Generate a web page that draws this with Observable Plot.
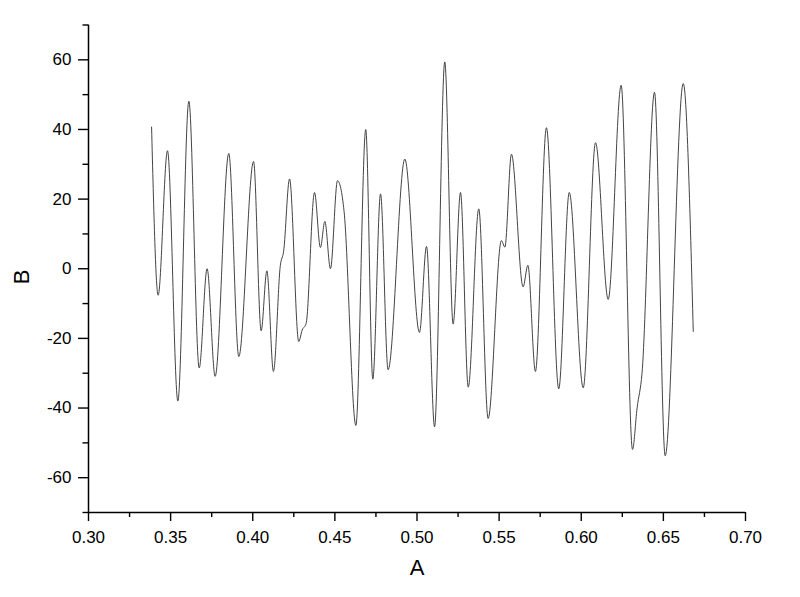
<!DOCTYPE html>
<html>
<head>
<meta charset="utf-8">
<script src="https://cdn.jsdelivr.net/npm/d3@7"></script>
<script src="https://cdn.jsdelivr.net/npm/@observablehq/plot@0.6"></script>
<style>
  html, body { margin: 0; padding: 0; background: #fff; }
  #chart { width: 800px; height: 597px; }
</style>
</head>
<body>
<div id="chart"></div>
<script>
// Data
const A = [0.3384, 0.3424, 0.3481, 0.3544, 0.3611, 0.3674, 0.3722, 0.3771, 0.3854, 0.3915,
           0.4005, 0.4051, 0.4086, 0.4126, 0.4168, 0.4188, 0.4224, 0.4280, 0.4301, 0.4325,
           0.4376, 0.4412, 0.4439, 0.4473, 0.4516, 0.4556, 0.4628, 0.4688, 0.4731, 0.4778,
           0.4824, 0.4926, 0.5015, 0.5058, 0.5107, 0.5169, 0.5220, 0.5265, 0.5312, 0.5376,
           0.5433, 0.5514, 0.5535, 0.5575, 0.5646, 0.5675, 0.5721, 0.5788, 0.5863, 0.5927,
           0.6012, 0.6087, 0.6164, 0.6243, 0.6312, 0.6340, 0.6370, 0.6446, 0.6511, 0.6621,
           0.6682];
const B = [40.7, -7.6, 33.9, -38, 48.1, -28.5, 0, -30.9, 33.1, -25.2,
           30.8, -17.8, -0.6, -29.5, 1, 5, 25.8, -20.9, -17.6, -15.7,
           21.9, 6.1, 13.6, 0, 25.3, 16.5, -45, 40, -31.7, 21.5,
           -29, 31.5, -18.3, 6.4, -45.4, 59.4, -15.9, 21.9, -34, 17.2,
           -43, 8.1, 6.2, 32.9, -5.2, 1, -29.5, 40.5, -34.5, 21.9,
           -34.2, 36.2, -8.8, 52.7, -51.9, -40, -30, 50.7, -53.7, 53.2,
           -18];

const xMajor = [0.30, 0.35, 0.40, 0.45, 0.50, 0.55, 0.60, 0.65, 0.70];
const xMinor = [0.325, 0.375, 0.425, 0.475, 0.525, 0.575, 0.625, 0.675];
const yMajor = [-60, -40, -20, 0, 20, 40, 60];
const yMinor = [-70, -50, -30, -10, 10, 30, 50, 70];
const xDomain = [0.30, 0.70];
const yDomain = [-70, 70];
const xTitle = "A";
const yTitle = "B";

const points = A.map((a, i) => ({a, b: B[i]}));
const fmt = d3.format(".2f");
const font = "'Liberation Sans', Arial, Helvetica, sans-serif";

const chart = Plot.plot({
  width: 800,
  height: 597,
  marginLeft: 88,
  marginRight: 55,
  marginTop: 24.5,
  marginBottom: 85,
  style: {fontFamily: font, background: "#fff", color: "#000"},
  x: {domain: xDomain, label: null},
  y: {domain: yDomain, label: null},
  marks: [
    Plot.ruleX([xDomain[0]], {y1: yDomain[0], y2: yDomain[1], stroke: "#000", strokeWidth: 1.5}),
    Plot.ruleY([yDomain[0]], {x1: xDomain[0], x2: xDomain[1], stroke: "#000", strokeWidth: 1.5}),
    Plot.axisX(xMajor, {tickSize: 9, tickPadding: 9, tickFormat: fmt, fontSize: 17, strokeWidth: 1.4, label: null}),
    Plot.axisX(xMinor, {tickSize: 5, tickFormat: () => "", strokeWidth: 1.4, label: null}),
    Plot.axisY(yMajor, {tickSize: 10, tickPadding: 7, tickFormat: d => String(d), fontSize: 17, strokeWidth: 1.4, label: null}),
    Plot.axisY(yMinor, {tickSize: 5.5, tickFormat: () => "", strokeWidth: 1.4, label: null}),
    Plot.line(points, {x: "a", y: "b", curve: "monotone-x", stroke: "#444", strokeWidth: 1}),
    Plot.text([xTitle], {frameAnchor: "bottom", dy: 62, fontSize: 22, fill: "#000"}),
    Plot.text([yTitle], {frameAnchor: "left", dx: -67, dy: 15.5, rotate: -90, fontSize: 22, fill: "#000"})
  ]
});
document.getElementById("chart").appendChild(chart);
</script>
</body>
</html>
